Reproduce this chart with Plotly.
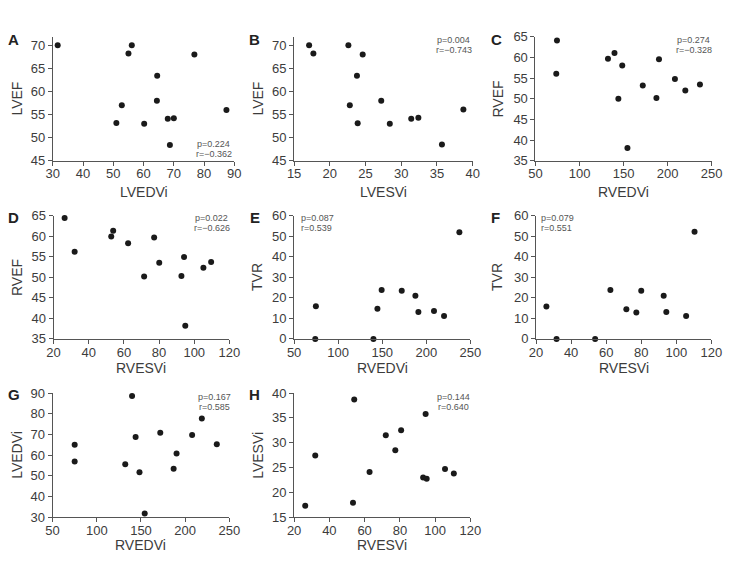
import plotly.graph_objects as go

W, H = 737, 563

# ---- data ----
A_x = [31.6, 56.1, 55.0, 76.8, 64.5, 64.4, 52.8, 87.4, 51.0, 60.2, 68.0, 70.0, 68.7]
A_y = [70.0, 70.0, 68.2, 68.0, 63.4, 58.0, 57.0, 56.0, 53.2, 53.0, 54.1, 54.2, 48.4]

B_x = [17.1, 17.7, 22.6, 24.6, 23.8, 22.8, 27.2, 23.9, 28.4, 31.4, 32.4, 35.7, 38.7]
B_y = [70.0, 68.2, 70.0, 68.0, 63.4, 57.0, 58.0, 53.1, 53.0, 54.1, 54.3, 48.5, 56.1]

C_x = [74.4, 73.6, 132.3, 139.7, 148.5, 190.2, 144.1, 171.8, 187.3, 208.3, 220.1, 236.7, 154.4]
C_y = [64.1, 56.1, 59.7, 61.1, 58.1, 59.6, 50.0, 53.2, 50.2, 54.8, 52.0, 53.5, 38.1]

D_x = [26.3, 32.0, 52.8, 53.9, 62.4, 77.2, 71.5, 80.1, 92.7, 94.2, 105.2, 109.6, 94.9]
D_y = [64.4, 56.2, 59.9, 61.3, 58.3, 59.7, 50.2, 53.5, 50.3, 54.9, 52.3, 53.7, 38.2]

E_x = [237.5, 74.7, 74.0, 140.0, 144.5, 149.3, 172.1, 187.6, 191.0, 208.7, 220.1]
E_y = [51.9, 15.9, 0.0, 0.0, 14.7, 23.8, 23.4, 21.0, 13.1, 13.6, 11.2]

F_x = [110.4, 25.9, 31.7, 53.7, 62.4, 71.5, 77.2, 80.0, 92.8, 94.3, 105.6]
F_y = [52.1, 15.8, 0.0, 0.0, 23.8, 14.4, 12.9, 23.4, 21.0, 13.1, 11.2]

G_x = [75.0, 75.0, 132.2, 139.9, 143.9, 148.3, 154.2, 171.8, 186.9, 190.2, 207.8, 218.8, 235.7]
G_y = [65.0, 56.9, 55.6, 88.6, 68.8, 51.7, 31.7, 70.8, 53.4, 60.8, 69.7, 77.7, 65.3]

H_x = [26.3, 32.0, 54.1, 53.4, 62.8, 72.0, 77.4, 80.7, 93.2, 95.2, 94.6, 105.6, 110.6]
H_y = [17.3, 27.4, 38.7, 17.9, 24.1, 31.5, 28.5, 32.5, 23.0, 22.7, 35.8, 24.7, 23.8]

labels = ["A", "B", "C", "D", "E", "F", "G", "H"]
x_titles = ["LVEDVi", "LVESVi", "RVEDVi", "RVESVi", "RVEDVi", "RVESVi", "RVEDVi", "RVESVi"]
y_titles = ["LVEF", "LVEF", "RVEF", "RVEF", "TVR", "TVR", "LVEDVi", "LVESVi"]
p_texts = ["p=0.224", "p=0.004", "p=0.274", "p=0.022", "p=0.087", "p=0.079", "p=0.167", "p=0.144"]
r_texts = ["r=\u22120.362", "r=\u22120.743", "r=\u22120.328", "r=\u22120.626", "r=0.539", "r=0.551", "r=0.585", "r=0.640"]
xs = [A_x, B_x, C_x, D_x, E_x, F_x, G_x, H_x]
ys = [A_y, B_y, C_y, D_y, E_y, F_y, G_y, H_y]

x_ranges = [[30, 90], [15, 40], [50, 250], [20, 120], [50, 250], [20, 120], [50, 250], [20, 120]]
x_dticks = [10, 5, 50, 20, 50, 20, 50, 20]
y_ranges = [[45, 71.8], [45, 71.8], [35, 65], [35, 65], [0, 60], [0, 60], [30, 90], [15, 40]]
y_dticks = [5, 5, 5, 5, 10, 10, 10, 5]

# ---- layout geometry (pixels) ----
col_px = [(47, 233), (294.3, 477.3), (541.7, 722.3),
          (47.7, 228), (294.3, 475), (542.3, 722),
          (46.7, 228), (294.3, 475)]
row_px = [(30.7, 158)] * 3 + [(214.3, 341)] * 3 + [(396.7, 524)] * 2
xtitle_y = [190] * 3 + [371] * 3 + [553] * 2
ytitle_x = [10, 257, 503, 10, 257, 503, 10, 257]
label_pos = [(7, 33), (254, 33), (502, 33), (7, 216), (254, 216), (501, 216), (7, 398), (254, 398)]
# p / r annotation positions: (x, y_p, y_r, anchor)
pr_pos = [(212, 141, 151, "center"), (458, 34, 44, "center"), (704, 34, 44, "center"),
          (210, 217, 227, "center"), (299, 217, 227, "left"), (545, 217, 227, "left"),
          (213, 400.5, 410.5, "center"), (458, 400.5, 410.5, "center")]

FONT = "Liberation Sans, Arial, Helvetica, sans-serif"
TXT = "#3c3c3c"
AX = "#555555"

fig = go.Figure()
annotations = []
layout = {}

def fx(px):
    return px / W

def fy(py):
    return 1 - py / H

for i in range(8):
    n = "" if i == 0 else str(i + 1)
    fig.add_trace(go.Scatter(
        x=xs[i], y=ys[i], mode="markers",
        marker=dict(color="#1a1a1a", size=6),
        xaxis="x" + n, yaxis="y" + n, cliponaxis=False, showlegend=False,
    ))
    x0, x1 = col_px[i]
    y0, y1 = row_px[i]
    layout["xaxis" + n] = dict(
        domain=[fx(x0), fx(x1)], range=x_ranges[i], dtick=x_dticks[i], tick0=0,
        anchor="y" + n, showgrid=False, zeroline=False, showline=True,
        linecolor=AX, linewidth=1, ticks="outside", ticklen=4, tickcolor=AX,
        ticklabelstandoff=-3,
        tickfont=dict(family=FONT, size=13, color=TXT),
    )
    layout["yaxis" + n] = dict(
        domain=[fy(y1), fy(y0)], range=y_ranges[i], dtick=y_dticks[i], tick0=0,
        anchor="x" + n, showgrid=False, zeroline=False, showline=True,
        linecolor=AX, linewidth=1, ticks="outside", ticklen=4, tickcolor=AX,
        tickfont=dict(family=FONT, size=13, color=TXT),
    )
    # axis titles
    annotations.append(dict(
        text=x_titles[i], xref="paper", yref="paper",
        x=fx((x0 + x1) / 2), y=fy(xtitle_y[i]), xanchor="center", yanchor="middle",
        showarrow=False, font=dict(family=FONT, size=14, color=TXT),
    ))
    annotations.append(dict(
        text=y_titles[i], xref="paper", yref="paper",
        x=fx(ytitle_x[i]), y=fy((y0 + y1) / 2), xanchor="center", yanchor="middle",
        textangle=-90, showarrow=False, font=dict(family=FONT, size=14, color=TXT),
    ))
    # panel letters
    lx, ly = label_pos[i]
    annotations.append(dict(
        text="<b>" + labels[i] + "</b>", xref="paper", yref="paper",
        x=fx(lx), y=fy(ly), xanchor="center", yanchor="middle",
        showarrow=False, font=dict(family="Liberation Sans Narrow, " + FONT, size=15, color="#222222"),
    ))
    # statistics
    px_, pyp, pyr, anc = pr_pos[i]
    for t, yy in ((p_texts[i], pyp), (r_texts[i], pyr)):
        annotations.append(dict(
            text=t, xref="paper", yref="paper",
            x=fx(px_), y=fy(yy), xanchor=anc, yanchor="middle",
            showarrow=False, font=dict(family=FONT, size=9, color="#555555"),
        ))

fig.update_layout(
    width=W, height=H, margin=dict(l=0, r=0, t=0, b=0),
    paper_bgcolor="white", plot_bgcolor="white",
    annotations=annotations, **layout,
)

fig.write_html("out.html")
